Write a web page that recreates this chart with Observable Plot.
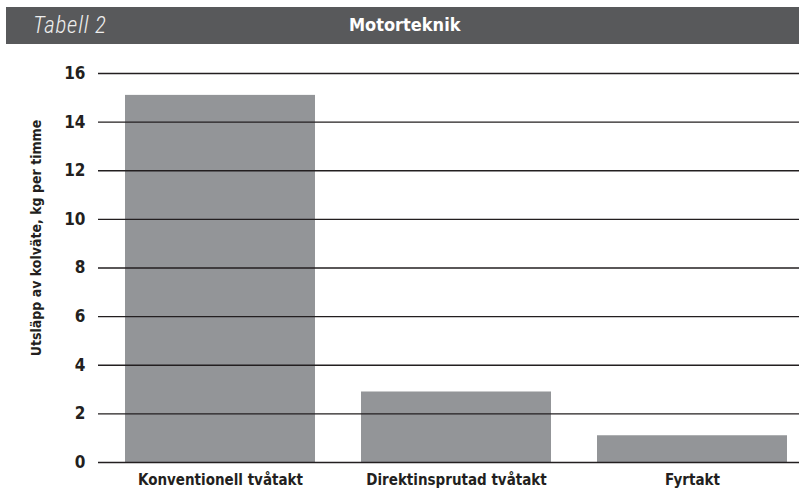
<!DOCTYPE html>
<html><head><meta charset="utf-8">
<script src="https://cdn.jsdelivr.net/npm/d3@7"></script>
<script src="https://cdn.jsdelivr.net/npm/@observablehq/plot@0.6"></script>
<style>
body{margin:0;background:#fff;width:799px;height:490px;overflow:hidden;font-family:"DejaVu Sans Condensed","DejaVu Sans",sans-serif;font-stretch:condensed;}
#hdr{position:absolute;left:6px;top:7px;width:793px;height:37px;background:#58595b;color:#fff;}
#hdr .t{position:absolute;left:27px;top:5px;font-family:Roboto,"Liberation Sans",sans-serif;font-style:italic;font-size:23px;font-weight:300;letter-spacing:0.8px;color:#eeeeee;}
#hdr .m{position:absolute;left:343px;top:7px;font-weight:bold;font-size:18px;}
#chart{position:absolute;left:0;top:45px;}
</style></head><body>
<div id="hdr"><span class="t">Tabell 2</span><span class="m">Motorteknik</span></div>
<div id="chart"></div>
<script>
const categories = ["Konventionell tvåtakt", "Direktinsprutad tvåtakt", "Fyrtakt"];
const values = [15.1, 2.9, 1.1];
const yTicks = [0, 2, 4, 6, 8, 10, 12, 14, 16];
const yLabel = "Utsläpp av kolväte, kg per timme";

const data = categories.map((c, i) => ({cat: c, v: values[i]}));

const chart = Plot.plot({
  width: 799,
  height: 445,
  marginTop: 28,
  marginBottom: 28,
  marginLeft: 98,
  marginRight: 0,
  style: {fontFamily: '"DejaVu Sans Condensed","DejaVu Sans",sans-serif', fontStretch: "condensed", color: "#231f20", background: "#fff", overflow: "visible"},
  x: {domain: categories, range: [125, 787], paddingInner: 0.195, paddingOuter: 0, label: null},
  y: {domain: [0, 16], label: null},
  marks: [
    Plot.barY(data, {x: "cat", y: "v", fill: "#939598"}),
    Plot.ruleY(yTicks, {stroke: "#231f20", strokeWidth: 1.3}),
    Plot.axisY({ticks: yTicks, tickSize: 0, tickPadding: 13, fontSize: 17, fill: "#231f20", fontWeight: 600, label: null}),
    Plot.axisX({tickSize: 0, tickPadding: 12, fontSize: 15, fontWeight: "bold", fill: "#231f20", label: null}),
    Plot.text([yLabel], {frameAnchor: "left", textAnchor: "middle", dx: -62, dy: -30, rotate: -90, fontSize: 14, fontWeight: "bold", fill: "#231f20"})
  ]
});
document.getElementById("chart").appendChild(chart);
</script>
</body></html>
